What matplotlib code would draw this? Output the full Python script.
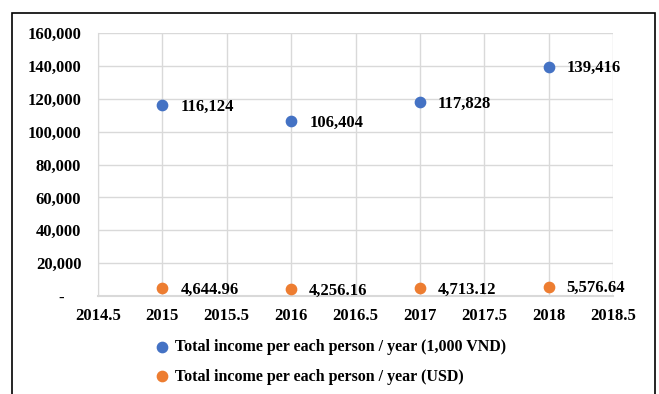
import matplotlib.pyplot as plt
from matplotlib.patches import Rectangle
from matplotlib.ticker import FuncFormatter

# Data
years = [2015, 2016, 2017, 2018]
income_vnd = [116124, 106404, 117828, 139416]
income_usd = [4644.96, 4256.16, 4713.12, 5576.64]
vnd_labels = ['116,124', '106,404', '117,828', '139,416']
usd_labels = ['4,644.96', '4,256.16', '4,713.12', '5,576.64']
name_vnd = 'Total income per each person / year (1,000 VND)'
name_usd = 'Total income per each person / year (USD)'

plt.rcParams['font.family'] = ['Liberation Serif', 'DejaVu Serif']
plt.rcParams['font.weight'] = 'bold'

fig = plt.figure(figsize=(6.59, 3.94), dpi=100)
ax = fig.add_axes([98 / 659, 1 - 296 / 394, (613 - 98) / 659, (296 - 33) / 394])

blue = '#4472C4'
orange = '#ED7D31'

ax.scatter(years, income_vnd, s=55, color=blue, zorder=3, label=name_vnd)
ax.scatter(years, income_usd, s=55, color=orange, zorder=3, label=name_usd)

for x, y, t in zip(years, income_vnd, vnd_labels):
    ax.annotate(t, (x, y), xytext=(13, -1), textcoords='offset points',
                va='center', ha='left', fontsize=12, fontweight='bold')
for x, y, t in zip(years, income_usd, usd_labels):
    ax.annotate(t, (x, y), xytext=(13, -1), textcoords='offset points',
                va='center', ha='left', fontsize=12, fontweight='bold')

ax.set_xlim(2014.5, 2018.5)
ax.set_ylim(0, 160000)
ax.set_xticks([2014.5, 2015, 2015.5, 2016, 2016.5, 2017, 2017.5, 2018, 2018.5])
ax.set_xticklabels(['2014.5', '2015', '2015.5', '2016', '2016.5', '2017', '2017.5', '2018', '2018.5'])
ax.set_yticks(range(0, 160001, 20000))
# Excel accounting style: zero shown as a dash
ax.yaxis.set_major_formatter(FuncFormatter(lambda v, p: '-    ' if v == 0 else f'{int(v):,}'))

ax.grid(True, color='#D9D9D9', linewidth=1)
ax.set_axisbelow(True)
for side in ['top', 'right']:
    ax.spines[side].set_visible(False)
ax.spines['left'].set_color('#D9D9D9')
ax.spines['bottom'].set_color('#D9D9D9')
ax.spines['bottom'].set_linewidth(1.5)
ax.tick_params(length=0, labelsize=12, pad=9)
ax.tick_params(axis='y', pad=12)
for lab in ax.get_xticklabels() + ax.get_yticklabels():
    lab.set_fontweight('bold')

fig.legend(loc='upper left', bbox_to_anchor=(156 / 659, 1 - 339 / 394), frameon=False,
           handlelength=0.8, handletextpad=0.4, labelspacing=0.85, borderaxespad=0,
           borderpad=0, prop={'weight': 'bold', 'size': 11.5})

fig.add_artist(Rectangle((12 / 659, -0.05), (655 - 12) / 659, 1 - 13 / 394 + 0.05,
                         transform=fig.transFigure, fill=False, edgecolor='black',
                         linewidth=1.2))

fig.savefig('out.png', dpi=100)
